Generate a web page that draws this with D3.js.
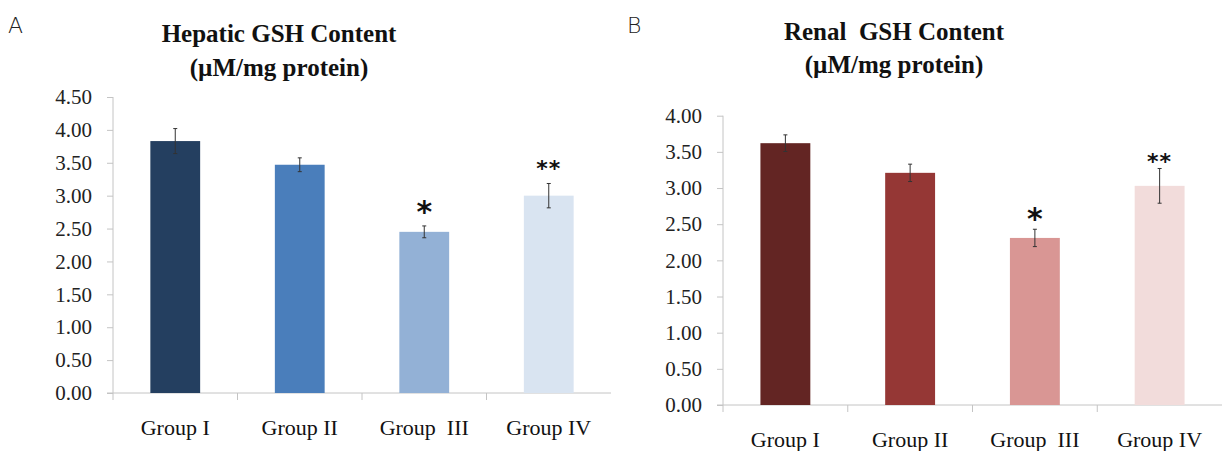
<!DOCTYPE html>
<html><head><meta charset="utf-8">
<script src="https://cdn.jsdelivr.net/npm/d3@7"></script>
<style>body{margin:0;background:#fff}svg{display:block}</style>
</head><body>
<svg id="c" width="1222" height="451"></svg>
<script>
const groups = ["Group I", "Group II", "Group  III", "Group IV"];
const hepaticValues = [3.83, 3.47, 2.45, 3.00];
const hepaticErrors = [0.19, 0.105, 0.09, 0.185];
const renalValues = [3.62, 3.21, 2.31, 3.03];
const renalErrors = [0.115, 0.12, 0.12, 0.24];
const significance = ["", "", "*", "**"];
const hepaticTicks = [0, 0.5, 1, 1.5, 2, 2.5, 3, 3.5, 4, 4.5];
const renalTicks = [0, 0.5, 1, 1.5, 2, 2.5, 3, 3.5, 4];
const hepaticColors = ["#243f60", "#4a7ebb", "#93b1d6", "#d9e4f1"];
const renalColors = ["#632523", "#953735", "#d99694", "#f2dcdb"];

const svg = d3.select("#c");
const serif = "'Liberation Serif','Times New Roman',serif";

function panel(cfg) {
  const g = svg.append("g");
  const x = d3.scaleBand().domain(groups).range([cfg.x0, cfg.x1]).paddingInner(0.6).paddingOuter(0.3);
  const y = d3.scaleLinear().domain([0, cfg.ymax]).range([cfg.yb, cfg.yt]);
  const axisColor = "#c4c4c4";

  // y axis
  const ya = g.append("g").attr("transform", `translate(${cfg.x0},0)`)
    .call(d3.axisLeft(y).tickValues(cfg.ticks).tickFormat(d3.format(".2f")).tickSize(6).tickPadding(15));
  ya.attr("font-family", null).attr("font-size", null);
  ya.select(".domain").attr("stroke", axisColor).attr("d", `M0,${cfg.yt}V${cfg.yb + 7}`);
  ya.selectAll(".tick line").attr("stroke", axisColor);
  ya.selectAll(".tick text").style("font-family", serif).style("font-size", "21px").attr("fill", "#222");

  // x axis
  const xa = g.append("g").attr("transform", `translate(0,${cfg.yb})`)
    .call(d3.axisBottom(x).tickSize(0).tickPadding(26));
  xa.attr("font-family", null).attr("font-size", null);
  xa.select(".domain").attr("stroke", axisColor).attr("d", `M${cfg.x0 - 6},0H${cfg.x1}`);
  xa.selectAll(".tick text").style("font-family", serif).style("font-size", "22px").attr("fill", "#111")
    .style("white-space", "pre");
  const bounds = groups.map((d, i) => cfg.x0 + i * x.step());
  xa.selectAll(".sep").data(bounds.slice(1)).enter().append("line")
    .attr("x1", d => d).attr("x2", d => d).attr("y1", 0).attr("y2", 7).attr("stroke", axisColor);

  // bars
  g.selectAll(".bar").data(cfg.values).enter().append("rect")
    .attr("x", (d, i) => x(groups[i])).attr("width", x.bandwidth())
    .attr("y", d => y(d)).attr("height", d => y(0) - y(d))
    .attr("fill", (d, i) => cfg.colors[i]);

  // error bars
  const eb = g.selectAll(".err").data(cfg.values).enter().append("g")
    .attr("transform", (d, i) => `translate(${x(groups[i]) + x.bandwidth() / 2},0)`)
    .attr("stroke", "#333").attr("stroke-width", 1);
  eb.append("line").attr("y1", (d, i) => y(d + cfg.errors[i])).attr("y2", (d, i) => y(d - cfg.errors[i]));
  eb.append("line").attr("x1", -2).attr("x2", 2).attr("y1", (d, i) => y(d + cfg.errors[i])).attr("y2", (d, i) => y(d + cfg.errors[i]));
  eb.append("line").attr("x1", -2).attr("x2", 2).attr("y1", (d, i) => y(d - cfg.errors[i])).attr("y2", (d, i) => y(d - cfg.errors[i]));

  // significance marks
  g.selectAll(".sig").data(significance).enter().append("text")
    .attr("x", (d, i) => x(groups[i]) + x.bandwidth() / 2)
    .attr("y", (d, i) => y(cfg.values[i] + cfg.errors[i]) - cfg.starGap[i] + (d.length === 1 ? 17 : 12))
    .attr("text-anchor", "middle").style("font-family", "'DejaVu Sans',sans-serif")
    .style("font-weight", "bold").style("font-size", d => d.length === 1 ? "30px" : "22px")
    .style("letter-spacing", d => d.length === 1 ? "0px" : "1px")
    .attr("fill", "#111").text(d => d);

  // titles
  g.append("text").attr("x", cfg.tx).attr("y", cfg.ty1).attr("text-anchor", "middle")
    .style("font-family", serif).style("font-weight", "bold").style("font-size", "25px").attr("fill", "#111")
    .style("white-space", "pre").text(cfg.title);
  g.append("text").attr("x", cfg.tx).attr("y", cfg.ty2).attr("text-anchor", "middle")
    .style("font-family", serif).style("font-weight", "bold").style("font-size", "25px").attr("fill", "#111")
    .text("(\u00b5M/mg protein)");
  g.append("text").attr("x", cfg.lx).attr("y", cfg.ly)
    .style("font-family", "'DejaVu Sans',sans-serif").style("font-size", "22px").style("font-weight", "200").attr("fill", "#222")
    .text(cfg.letter);
}

panel({x0: 113, x1: 611, yb: 393, yt: 97, ymax: 4.5, ticks: hepaticTicks,
  values: hepaticValues, errors: hepaticErrors, colors: hepaticColors, starGap: [0, 0, 21, 19],
  title: "Hepatic GSH Content", tx: 279, ty1: 42, ty2: 76, letter: "A", lx: 8, ly: 33});
panel({x0: 723, x1: 1222, yb: 405, yt: 115.7, ymax: 4.0, ticks: renalTicks,
  values: renalValues, errors: renalErrors, colors: renalColors, starGap: [0, 0, 17, 11],
  title: "Renal  GSH Content", tx: 894, ty1: 40, ty2: 73, letter: "B", lx: 627, ly: 33});
</script>
</body></html>
